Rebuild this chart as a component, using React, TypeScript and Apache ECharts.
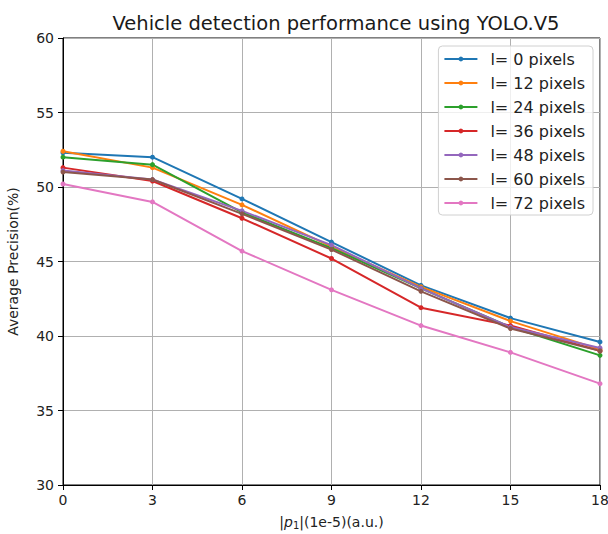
import React, { useEffect, useRef } from "react";
import * as echarts from "echarts";

const xValues = [0, 3, 6, 9, 12, 15, 18];
const seriesNames = ["l= 0 pixels", "l= 12 pixels", "l= 24 pixels", "l= 36 pixels", "l= 48 pixels", "l= 60 pixels", "l= 72 pixels"];
const s0 = [52.3, 52.0, 49.2, 46.3, 43.4, 41.2, 39.6];
const s12 = [52.4, 51.3, 48.8, 46.0, 43.3, 41.0, 39.1];
const s24 = [52.0, 51.5, 48.3, 45.9, 43.2, 40.6, 38.7];
const s36 = [51.3, 50.4, 47.9, 45.2, 41.9, 40.7, 39.0];
const s48 = [51.1, 50.5, 48.4, 46.1, 43.2, 40.6, 39.2];
const s60 = [51.0, 50.5, 48.2, 45.8, 43.0, 40.5, 39.0];
const s72 = [50.2, 49.0, 45.7, 43.1, 40.7, 38.9, 36.8];
const allSeries = [s0, s12, s24, s36, s48, s60, s72];
const colors = ["#1f77b4", "#ff7f0e", "#2ca02c", "#d62728", "#9467bd", "#8c564b", "#e377c2"];

const FONT = "DejaVu Sans";

export default function App() {
  const ref = useRef<HTMLDivElement>(null);
  useEffect(() => {
    if (!ref.current) return;
    const chart = echarts.init(ref.current, null, { renderer: "svg" });
    chart.setOption({
      animation: false,
      color: colors,
      textStyle: { fontFamily: FONT },
      title: {
        text: "Vehicle detection performance using YOLO.V5",
        left: 331,
        textAlign: "center",
        top: 8,
        textStyle: { fontFamily: FONT, fontSize: 19.5, fontWeight: "normal", color: "#1a1a1a" },
      },
      grid: {
        left: 63,
        right: 8,
        top: 38,
        bottom: 49,
        containLabel: false,
        outerBoundsMode: "none",
        show: true,
        borderColor: "#000",
        borderWidth: 1,
      },
      legend: {
        orient: "vertical",
        right: 15,
        top: 46,
        padding: [4, 8, 3, 5],
        itemWidth: 33,
        itemHeight: 6,
        itemGap: 6,
        backgroundColor: "rgba(255,255,255,0.8)",
        borderColor: "#d0d0d0",
        borderWidth: 1,
        borderRadius: 4,
        textStyle: { fontFamily: FONT, fontSize: 16, lineHeight: 18, color: "#222", padding: [0, 0, 0, 8] },
        data: seriesNames,
      },
      xAxis: {
        type: "value",
        min: 0,
        max: 18,
        interval: 3,
        name: "|{i|p}{s|1}|(1e-5)(a.u.)",
        nameLocation: "middle",
        nameGap: 29,
        nameTextStyle: {
          fontFamily: FONT,
          fontSize: 14,
          color: "#222",
          rich: {
            i: { fontFamily: FONT, fontStyle: "italic", fontSize: 14, color: "#222" },
            s: { fontFamily: FONT, fontSize: 10, color: "#222", verticalAlign: "bottom", padding: [6, 0, 0, 0] },
          },
        },
        axisLine: { show: true, lineStyle: { color: "#000", width: 1 } },
        axisTick: { show: true, length: 5, lineStyle: { color: "#000" } },
        axisLabel: { fontFamily: FONT, fontSize: 14, color: "#222", margin: 8 },
        splitLine: { show: true, lineStyle: { color: "#b0b0b0", width: 1 } },
      },
      yAxis: {
        type: "value",
        min: 30,
        max: 60,
        interval: 5,
        name: "Average Precision(%)",
        nameLocation: "middle",
        nameGap: 43,
        nameTextStyle: { fontFamily: FONT, fontSize: 14, color: "#222" },
        axisLine: { show: true, lineStyle: { color: "#000", width: 1 } },
        axisTick: { show: true, length: 5, lineStyle: { color: "#000" } },
        axisLabel: { fontFamily: FONT, fontSize: 14, color: "#222", margin: 9 },
        splitLine: { show: true, lineStyle: { color: "#b0b0b0", width: 1 } },
      },
      series: allSeries.map((vals, i) => ({
        name: seriesNames[i],
        type: "line",
        data: vals.map((v, j) => [xValues[j], v]),
        symbol: "circle",
        symbolSize: 5,
        lineStyle: { width: 2, color: colors[i] },
        itemStyle: { color: colors[i] },
        clip: false,
      })),
    });
    return () => chart.dispose();
  }, []);
  return (
    <div
      ref={ref}
      style={{ position: "fixed", left: 0, top: 0, width: 608, height: 534, background: "#fff" }}
    />
  );
}
